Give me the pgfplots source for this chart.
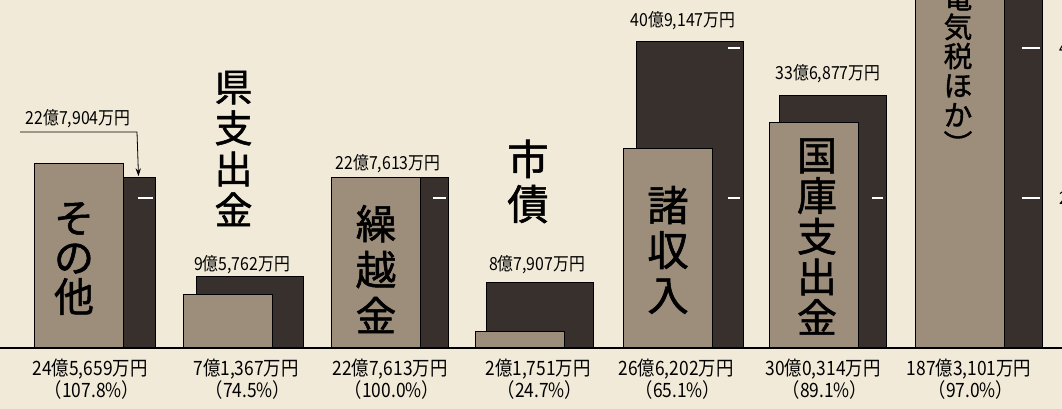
\documentclass[border=0pt]{standalone}
\usepackage{pgfplots}
\pgfplotsset{compat=1.18}
\usetikzlibrary{arrows.meta}
\usepackage{fontspec}
\setmainfont{Noto Sans CJK JP}
\newfontfamily\numfont[FakeStretch=0.88]{Noto Sans CJK JP}
\newfontfamily\catfont[FakeBold=1.3]{Noto Sans CJK JP}
\definecolor{bg}{RGB}{241,234,216}
\definecolor{lightbar}{RGB}{156,142,122}
\definecolor{darkbar}{RGB}{56,48,45}
\definecolor{ink}{RGB}{48,40,38}
\newcommand{\bigcat}[2]{\catfont\fontsize{#1}{#2}\selectfont}
\newcommand{\toplab}{\numfont\fontsize{13.5}{15}\selectfont}
\newcommand{\botlab}{\numfont\fontsize{14.8}{16}\selectfont}
\begin{document}
\begin{tikzpicture}
\begin{axis}[
  scale only axis, width=796.5pt, height=306.75pt,
  xmin=0, xmax=1062, ymin=-8.133, ymax=46.4,
  axis line style={draw=none}, xtick=\empty, ytick=\empty,
  axis background/.style={fill=bg},
  clip=true,
  every node/.style={text=ink},
]
% budget (dark, behind)
\addplot[ybar, bar width=107, bar shift=0, fill=darkbar, draw=black, line width=0.7pt]
  coordinates {(101.5,22.7904) (249.5,9.5762) (394.5,22.7613) (539.5,8.7907) (689.5,40.9147) (832.5,33.6877) (988.5,193.1)};
% actual (light, front)
\addplot[ybar, bar width=89, bar shift=0, fill=lightbar, draw=black, line width=0.7pt]
  coordinates {(78.5,24.5659) (228,7.1367) (375.5,22.7613) (520,2.1751) (668,26.6202) (813.5,30.0314) (960,187.3101)};
% white scale marks on dark bars
\addplot[white, line width=1pt] coordinates {(138,20) (153,20)};
\addplot[white, line width=1pt] coordinates {(433,20) (446,20)};
\addplot[white, line width=1pt] coordinates {(728,20) (740,20)};
\addplot[white, line width=1pt] coordinates {(728,40) (740,40)};
\addplot[white, line width=1pt] coordinates {(872,20) (883,20)};
\addplot[white, line width=1pt] coordinates {(1022,20) (1040,20)};
\addplot[white, line width=1pt] coordinates {(1022,40) (1040,40)};
% baseline
\addplot[black, line width=1.1pt] coordinates {(0,0) (1062,0)};
% arrow for first budget label
\addplot[black, line width=0.6pt, -{Stealth[length=6pt,width=4pt]}] coordinates {(20,28.8) (137,28.8) (138.5,22.9)};

% value labels (budget)
\node[font=\toplab] at (axis cs:78,30.6) {22億7,904万円};
\node[font=\toplab] at (axis cs:242,11.1) {9億5,762万円};
\node[font=\toplab] at (axis cs:388,24.55) {22億7,613万円};
\node[font=\toplab] at (axis cs:537,11.1) {8億7,907万円};
\node[font=\toplab] at (axis cs:683,43.6) {40億9,147万円};
\node[font=\toplab] at (axis cs:828,36.55) {33億6,877万円};

% bottom labels (actual, rate)
\node[font=\botlab] at (axis cs:90,-2.75) {24億5,659万円};
\node[font=\botlab] at (axis cs:92,-5.65) {（107.8\%）};
\node[font=\botlab] at (axis cs:246,-2.75) {7億1,367万円};
\node[font=\botlab] at (axis cs:248,-5.65) {（74.5\%）};
\node[font=\botlab] at (axis cs:390,-2.75) {22億7,613万円};
\node[font=\botlab] at (axis cs:392,-5.65) {（100.0\%）};
\node[font=\botlab] at (axis cs:538,-2.75) {2億1,751万円};
\node[font=\botlab] at (axis cs:540,-5.65) {（24.7\%）};
\node[font=\botlab] at (axis cs:676,-2.75) {26億6,202万円};
\node[font=\botlab] at (axis cs:678,-5.65) {（65.1\%）};
\node[font=\botlab] at (axis cs:823,-2.75) {30億0,314万円};
\node[font=\botlab] at (axis cs:825,-5.65) {（89.1\%）};
\node[font=\botlab] at (axis cs:969,-2.75) {187億3,101万円};
\node[font=\botlab] at (axis cs:971,-5.65) {（97.0\%）};

% category labels
\node[align=center, inner sep=0pt, font=\bigcat{30}{29.5}] at (axis cs:74,11.93) {そ\\の\\他};
\node[align=center, inner sep=0pt, font=\bigcat{28.5}{30.75}] at (axis cs:233.5,26.6) {県\\支\\出\\金};
\node[align=center, inner sep=0pt, font=\bigcat{30.5}{34.5}] at (axis cs:376,10.53) {繰\\越\\金};
\node[align=center, inner sep=0pt, font=\bigcat{31}{33.75}] at (axis cs:528,22.2) {市\\債};
\node[align=center, inner sep=0pt, font=\bigcat{31}{33.75}] at (axis cs:668,13.07) {諸\\収\\入};
\node[align=center, inner sep=0pt, font=\bigcat{30}{30.5}] at (axis cs:817,14.87) {国\\庫\\支\\出\\金};
\node[align=center, inner sep=0pt, anchor=south, font=\bigcat{21.5}{22}] at (axis cs:958,25.7) {電\\気\\税\\ほ\\か\\︶};

% cut-off scale numbers at right edge
\node[anchor=west, inner sep=0pt, font=\numfont\fontsize{13}{14}\selectfont] at (axis cs:1059,40) {40};
\node[anchor=west, inner sep=0pt, font=\numfont\fontsize{13}{14}\selectfont] at (axis cs:1059,20) {20};
\end{axis}
\pgfresetboundingbox
\path (current axis.south west) rectangle (current axis.north east);
\end{tikzpicture}
\end{document}
